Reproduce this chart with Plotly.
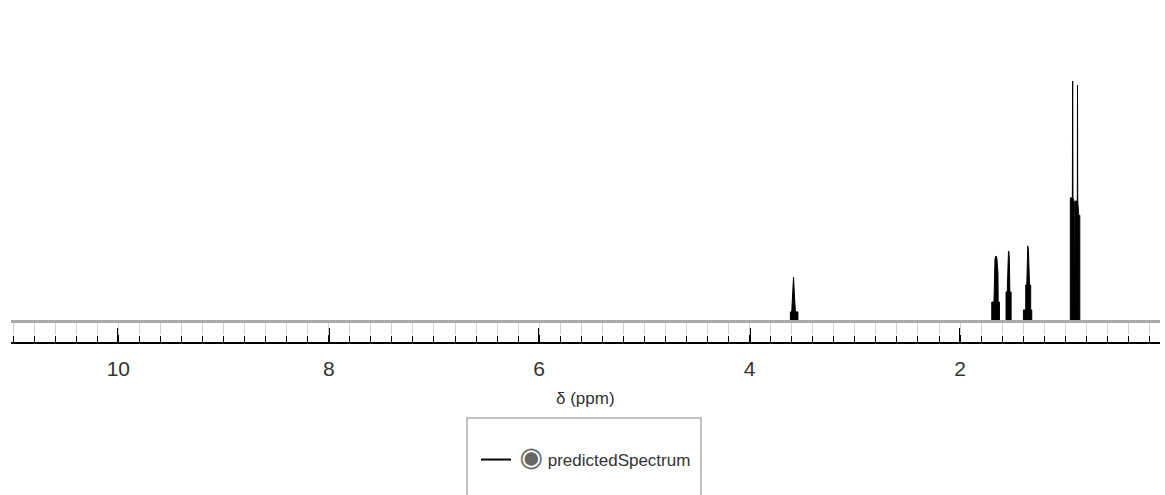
import plotly.graph_objects as go

# Multiplet outlines of the predicted 1H spectrum (ppm, relative intensity)
m1_ppm = [3.613, 3.613, 3.600, 3.590, 3.583, 3.576, 3.565, 3.541, 3.541]
m1_int = [0, 3.8, 3.8, 12.0, 18.3, 12.0, 3.8, 3.8, 0]

m2_ppm = [1.699, 1.699, 1.678, 1.676, 1.668, 1.658, 1.650, 1.640, 1.638, 1.626, 1.626]
m2_int = [0, 7.9, 7.9, 20.0, 26.0, 27.1, 26.0, 20.0, 7.9, 7.9, 0]

m3_ppm = [1.563, 1.563, 1.552, 1.548, 1.540, 1.537, 1.532, 1.527, 1.515, 1.515]
m3_int = [0, 12.1, 12.1, 26.0, 29.0, 29.2, 26.0, 12.1, 12.1, 0]

m4_ppm = [1.398, 1.398, 1.376, 1.376, 1.366, 1.362, 1.357, 1.350, 1.340, 1.329, 1.329, 1.319, 1.319]
m4_int = [0, 4.6, 4.6, 15.0, 15.0, 29.0, 31.3, 29.0, 15.0, 15.0, 4.6, 4.6, 0]

m5_ppm = [0.952, 0.952, 0.933, 0.930, 0.927, 0.914, 0.912, 0.903, 0.903, 0.886, 0.884, 0.882, 0.872, 0.862, 0.862]
m5_int = [0, 51.3, 51.3, 100.0, 51.3, 49.6, 0, 0, 50.0, 50.0, 98.3, 50.0, 44.0, 44.0, 0]

multiplets = [(m1_ppm, m1_int), (m2_ppm, m2_int), (m3_ppm, m3_int), (m4_ppm, m4_int), (m5_ppm, m5_int)]

x_range = [11.02, 0.10]
y_range = [-8.75, 133.75]
major_ticks = [10, 8, 6, 4, 2]
tick_labels = ["10", "8", "6", "4", "2"]
series_name = "predictedSpectrum"
axis_title = "δ (ppm)"

xs, ys = [], []
for p, i in multiplets:
    xs += p + [None]
    ys += i + [None]

FONT = "Liberation Sans Narrow, Liberation Sans, Arial, sans-serif"

fig = go.Figure()
fig.add_trace(go.Scatter(
    x=xs, y=ys, mode="lines", fill="toself", fillcolor="black",
    line=dict(color="black", width=1), connectgaps=False,
    showlegend=False, hoverinfo="skip"))
# legend entry (line symbol)
fig.add_trace(go.Scatter(
    x=[None], y=[None], mode="lines", line=dict(color="black", width=2),
    name='\u2009<span style="color:#666;font-size:27px;font-family:DejaVu Sans">◉</span> ' + series_name,
    showlegend=True))

fig.update_layout(
    width=1165, height=495,
    margin=dict(l=11, r=5, t=0, b=153),
    plot_bgcolor="white", paper_bgcolor="white",
    font=dict(family=FONT, color="#333"),
    xaxis=dict(range=x_range, showgrid=False, zeroline=False,
               showline=True, linecolor="black", linewidth=2,
               ticks="inside", ticklen=14, tickwidth=1.5, tickcolor="black",
               tickmode="array", tickvals=major_ticks, ticktext=tick_labels,
               tickfont=dict(size=21, color="#333", family=FONT),
               ticklabelstandoff=7,
               minor=dict(dtick=0.2, tick0=0, ticks="inside", ticklen=6,
                          tickwidth=1, tickcolor="black", showgrid=False)),
    xaxis2=dict(overlaying="x", matches="x", anchor="free", position=8.75 / 142.5,
                side="bottom", showline=True, linecolor="#aaa", linewidth=3,
                ticks="outside", ticklen=12, tickwidth=1, tickcolor="#d0d0d0",
                dtick=0.2, tick0=0, showticklabels=False, showgrid=False, zeroline=False),
    yaxis=dict(range=y_range, visible=False, showgrid=False, zeroline=False),
    legend=dict(x=(476 - 11) / 1149, xanchor="left", xref="paper",
                y=-(460 - 342) / 342, yanchor="middle",
                bgcolor="rgba(0,0,0,0)", borderwidth=0,
                font=dict(size=17, color="#333", family=FONT)),
    showlegend=True,
)
fig.add_trace(go.Scatter(x=[None], y=[None], xaxis="x2", showlegend=False, hoverinfo="skip"))

fig.add_annotation(text=axis_title, xref="paper", yref="paper", x=0.5, y=-(398 - 342) / 342,
                   xanchor="center", yanchor="middle", showarrow=False,
                   font=dict(size=17, color="#333", family=FONT))
fig.add_shape(type="rect", xref="paper", yref="paper",
              x0=(467 - 11) / 1149, x1=(701 - 11) / 1149,
              y0=-(418 - 342) / 342, y1=-(530 - 342) / 342,
              line=dict(color="#aaa", width=1.5), layer="below")

fig.write_html("out.html")
